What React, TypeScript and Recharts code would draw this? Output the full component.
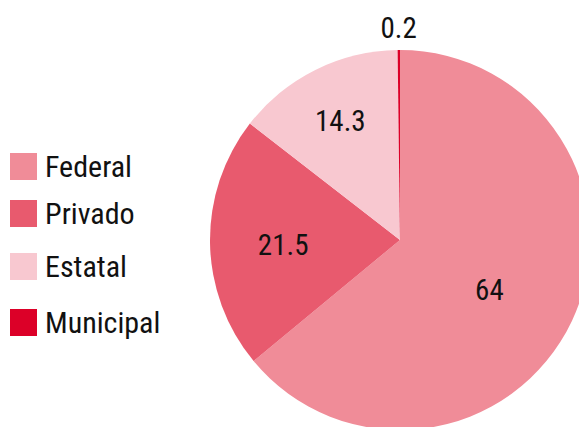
import { PieChart, Pie, Cell } from "recharts";

const categories = ["Federal", "Privado", "Estatal", "Municipal"];
const shares = [64, 21.5, 14.3, 0.2];
const labels = ["64", "21.5", "14.3", "0.2"];

const COLORS = ["#F08C98", "#E85A6E", "#F8C8D0", "#DC0028"];
const FONT = "'Liberation Sans Narrow', 'Roboto Condensed', 'Liberation Sans', sans-serif";

// label radius as a share of outerRadius, plus a small vertical nudge
const LABEL_R = [0.52, 0.615, 0.705, 1.12];
const LABEL_DY = [7, 3, 0, 0];

const data = categories.map((name, i) => ({ name, value: shares[i], label: labels[i] }));

const RAD = Math.PI / 180;

function renderLabel(props: any) {
  const { cx, cy, midAngle, outerRadius, index } = props;
  const r = outerRadius * LABEL_R[index];
  const x = cx + r * Math.cos(-midAngle * RAD);
  const y = cy + r * Math.sin(-midAngle * RAD) + LABEL_DY[index];
  return (
    <text
      x={x}
      y={y + 10.5}
      textAnchor="middle"
      fill="#111"
      fontSize={29}
      fontFamily={FONT}
    >
      {labels[index]}
    </text>
  );
}

// swatch top positions in the legend column
const LEGEND_TOP = [153, 200, 253, 309];

function Legend() {
  return (
    <>
      {categories.map((c, i) => (
        <div
          key={c}
          style={{
            position: "absolute",
            left: 10,
            top: LEGEND_TOP[i],
            display: "flex",
            alignItems: "center",
            height: 27,
          }}
        >
          <div style={{ width: 27, height: 27, background: COLORS[i] }} />
          <span
            style={{
              marginLeft: 8,
              fontFamily: FONT,
              fontSize: 30,
              color: "#111",
              lineHeight: "27px",
              position: "relative",
              top: 0,
            }}
          >
            {c}
          </span>
        </div>
      ))}
    </>
  );
}

export default function App() {
  return (
    <div style={{ position: "absolute", left: 0, top: 0, width: 579, height: 427, background: "#fff", overflow: "hidden" }}>
      <PieChart width={579} height={427} margin={{ top: 0, right: 0, bottom: 0, left: 0 }}>
        <Pie
          data={data}
          dataKey="value"
          cx={400}
          cy={240}
          outerRadius={190}
          startAngle={90}
          endAngle={-270}
          stroke="none"
          label={renderLabel}
          labelLine={false}
          isAnimationActive={false}
        >
          {data.map((_, i) => (
            <Cell key={i} fill={COLORS[i]} />
          ))}
        </Pie>
      </PieChart>
      <Legend />
    </div>
  );
}
